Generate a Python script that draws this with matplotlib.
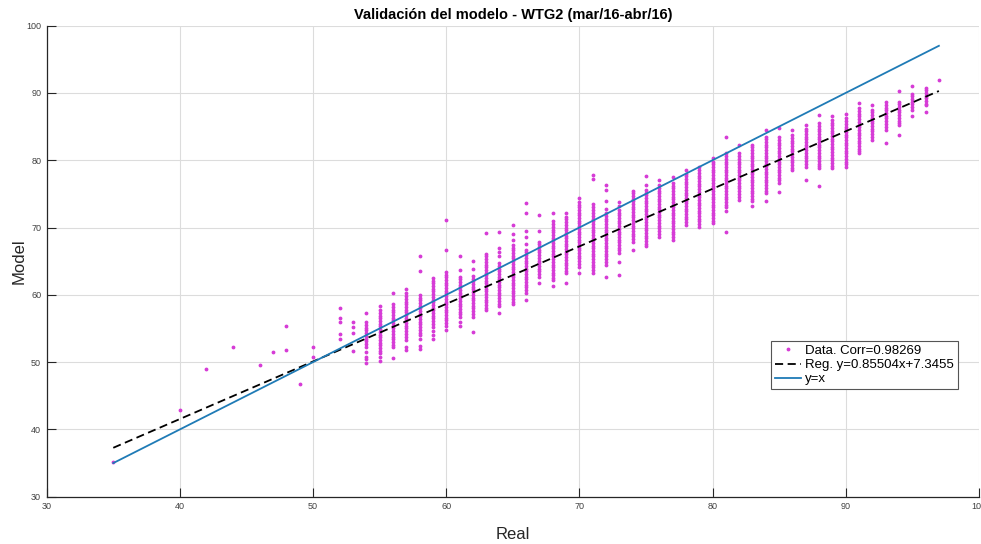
import numpy as np
import matplotlib
matplotlib.use("Agg")
import matplotlib.pyplot as plt

plt.rcParams['font.family'] = ['Liberation Sans', 'DejaVu Sans']

# Real value of each column of points
real_x = [35, 40, 42, 44, 46, 47, 48, 49, 50,
          52, 53, 54, 55, 56, 57, 58, 59, 60, 61, 62, 63, 64, 65, 66, 67, 68,
          69, 70, 71, 72, 73, 74, 75, 76, 77, 78, 79, 80, 81, 82, 83, 84, 85,
          86, 87, 88, 89, 90, 91, 92, 93, 94, 95, 96, 97]

# Model values read for each column (same order as real_x)
model_y = [
    [35.2], [42.9], [49.0], [52.3], [49.5], [51.5], [55.3, 51.8], [46.7], [52.3, 50.8],
    [58.0, 56.6, 56.0, 54.2, 53.4],
    [55.9, 55.2, 54.4, 51.6],
    [57.3, 55.9, 55.5, 55.1, 54.7, 54.3, 53.9, 53.5, 53.1, 52.7, 52.3, 51.5, 50.8, 50.4, 49.9],
    [58.3, 57.7, 57.3, 56.9, 56.5, 56.1, 55.7, 55.3, 54.9, 54.5, 54.1, 53.7, 53.3, 52.9, 52.5,
     52.1, 51.7, 51.3, 50.8, 50.2],
    [60.3, 58.6, 58.2, 57.8, 57.4, 57.0, 56.6, 56.2, 55.8, 55.4, 55.0, 54.6, 54.2, 53.8, 53.4,
     53.0, 52.6, 52.3, 50.6],
    [60.8, 60.2, 59.8, 59.4, 59.0, 58.6, 58.2, 57.8, 57.4, 57.0, 56.6, 56.2, 55.8, 55.4, 55.0,
     54.6, 54.2, 53.8, 53.3, 52.3, 51.8],
    [65.7, 63.5, 60.0, 59.6, 59.2, 58.8, 58.4, 58.0, 57.6, 57.2, 56.8, 56.4, 56.0, 55.6, 55.2,
     54.8, 54.4, 54.0, 53.4, 52.4, 51.9],
    [62.5, 62.1, 61.7, 61.3, 60.9, 60.5, 60.1, 59.7, 59.3, 58.9, 58.5, 58.1, 57.7, 57.3, 56.9,
     56.5, 56.1, 55.7, 55.2, 54.6, 54.0, 53.5],
    [71.1, 66.6, 63.4, 63.0, 62.6, 62.2, 61.8, 61.4, 61.0, 60.6, 60.2, 59.8, 59.4, 59.0, 58.6,
     58.2, 57.8, 57.4, 57.0, 56.6, 56.2, 55.8, 55.4, 54.8],
    [65.8, 63.7, 62.7, 62.3, 61.9, 61.5, 61.1, 60.7, 60.3, 59.9, 59.5, 59.1, 58.7, 58.3, 57.9,
     57.5, 57.1, 56.7, 56.0, 55.3],
    [65.1, 63.8, 62.8, 62.4, 62.0, 61.6, 61.2, 60.8, 60.4, 60.0, 59.6, 59.2, 58.8, 58.4, 58.0,
     57.6, 57.2, 56.7, 54.5],
    [69.2, 66.1, 65.7, 65.3, 64.9, 64.5, 64.1, 63.7, 63.3, 62.9, 62.5, 62.1, 61.7, 61.3, 60.9,
     60.5, 60.1, 59.7, 59.3, 58.9, 58.5, 58.1, 57.7],
    [69.4, 66.9, 66.3, 65.7, 64.7, 64.3, 63.9, 63.5, 63.1, 62.7, 62.3, 61.9, 61.5, 61.1, 60.7,
     60.3, 59.9, 59.5, 59.1, 58.7, 58.3, 57.3],
    [70.4, 69.1, 68.1, 67.4, 67.0, 66.6, 66.2, 65.8, 65.4, 65.0, 64.6, 64.2, 63.8, 63.4, 63.0,
     62.6, 62.2, 61.8, 61.4, 61.0, 60.6, 60.2, 59.8, 59.4, 59.0, 58.7],
    [73.7, 72.1, 69.5, 68.6, 67.6, 66.7, 66.3, 65.9, 65.5, 65.1, 64.7, 64.3, 63.9, 63.5, 63.1,
     62.7, 62.3, 61.9, 61.5, 61.1, 60.7, 60.2, 59.3],
    [71.9, 69.5, 67.9, 67.5, 67.1, 66.7, 66.3, 65.9, 65.5, 65.1, 64.7, 64.3, 63.9, 63.5, 63.1,
     62.7, 61.7],
    [72.2, 70.9, 70.5, 70.1, 69.7, 69.3, 68.9, 68.5, 68.1, 67.7, 67.3, 66.9, 66.5, 66.1, 65.7,
     65.3, 64.9, 64.5, 64.1, 63.7, 63.3, 62.9, 62.5, 62.2, 61.3],
    [72.2, 71.6, 71.2, 70.8, 70.4, 70.0, 69.6, 69.2, 68.8, 68.4, 68.0, 67.6, 67.2, 66.8, 66.4,
     66.0, 65.6, 65.2, 64.8, 64.4, 64.0, 63.6, 63.2, 61.7],
    [74.4, 73.8, 73.4, 73.0, 72.6, 72.2, 71.8, 71.4, 71.0, 70.6, 70.2, 69.8, 69.4, 69.0, 68.6,
     68.2, 67.8, 67.4, 67.0, 66.6, 66.2, 65.8, 65.4, 65.0, 64.6, 64.2, 63.3],
    [77.8, 77.2, 73.5, 73.0, 72.6, 72.1, 71.7, 71.3, 70.9, 70.5, 70.1, 69.7, 69.3, 68.9, 68.5,
     68.1, 67.7, 67.3, 66.9, 66.5, 66.1, 65.7, 65.3, 64.9, 64.5, 64.2, 63.7, 63.2],
    [76.3, 75.6, 73.9, 72.7, 72.1, 71.7, 71.3, 70.9, 70.5, 70.1, 69.7, 69.3, 68.9, 68.5, 68.1,
     67.7, 67.3, 66.9, 66.5, 66.1, 65.7, 65.3, 64.9, 64.4, 62.7],
    [73.8, 73.2, 72.6, 72.2, 71.8, 71.4, 71.0, 70.6, 70.2, 69.8, 69.4, 69.0, 68.6, 68.2, 67.8,
     67.4, 67.0, 66.6, 66.2, 64.9, 63.0],
    [75.4, 75.1, 74.7, 74.3, 73.9, 73.5, 73.1, 72.7, 72.3, 71.9, 71.5, 71.1, 70.7, 70.3, 69.9,
     69.5, 69.1, 68.7, 68.3, 67.9, 66.6],
    [77.6, 76.3, 75.6, 75.2, 74.8, 74.4, 74.0, 73.6, 73.2, 72.8, 72.4, 72.0, 71.6, 71.2, 70.8,
     70.4, 70.0, 69.6, 69.2, 68.8, 68.4, 68.0, 67.6, 67.2],
    [77.1, 76.3, 75.9, 75.5, 75.1, 74.7, 74.3, 73.9, 73.5, 73.1, 72.7, 72.3, 71.9, 71.5, 71.1,
     70.7, 70.3, 69.9, 69.5, 69.1, 68.6],
    [77.5, 76.6, 76.2, 75.8, 75.4, 75.0, 74.6, 74.2, 73.8, 73.4, 73.0, 72.6, 72.2, 71.8, 71.4,
     71.0, 70.6, 70.2, 69.8, 69.4, 69.0, 68.6, 68.1],
    [78.6, 78.0, 77.6, 77.2, 76.8, 76.4, 76.0, 75.6, 75.2, 74.8, 74.4, 74.0, 73.6, 73.2, 72.8,
     72.4, 72.0, 71.6, 71.2, 70.8, 70.4],
    [79.0, 78.5, 78.1, 77.7, 77.3, 76.9, 76.5, 76.1, 75.7, 75.3, 74.9, 74.5, 74.1, 73.7, 73.3,
     72.9, 72.5, 72.1, 71.7, 71.3, 70.9, 70.5, 70.1],
    [80.4, 79.8, 79.4, 79.0, 78.6, 78.2, 77.8, 77.4, 77.0, 76.6, 76.2, 75.8, 75.4, 75.0, 74.6,
     74.2, 73.8, 73.4, 73.0, 72.6, 72.2, 71.8, 71.4, 71.0, 70.6],
    [83.4, 81.0, 80.6, 80.2, 79.8, 79.4, 79.0, 78.6, 78.2, 77.8, 77.4, 77.0, 76.6, 76.2, 75.8,
     75.4, 75.0, 74.6, 74.2, 73.8, 73.4, 73.0, 72.4, 69.4],
    [82.3, 81.0, 80.6, 80.2, 79.8, 79.4, 79.0, 78.6, 78.2, 77.8, 77.4, 77.0, 76.6, 76.2, 75.8,
     75.4, 75.0, 74.6, 74.1],
    [82.3, 81.9, 81.5, 81.1, 80.7, 80.3, 79.9, 79.5, 79.1, 78.7, 78.3, 77.9, 77.5, 77.1, 76.7,
     76.3, 75.9, 75.5, 75.1, 74.7, 74.3, 73.9, 73.2],
    [84.5, 83.5, 83.1, 82.7, 82.3, 81.9, 81.5, 81.1, 80.7, 80.3, 79.9, 79.5, 79.1, 78.7, 78.3,
     77.9, 77.5, 77.1, 76.7, 76.3, 75.9, 75.5, 75.1, 73.9],
    [84.8, 83.4, 83.0, 82.6, 82.2, 81.8, 81.4, 81.0, 80.6, 80.2, 79.8, 79.4, 79.0, 78.6, 78.2,
     77.8, 77.4, 77.0, 76.6, 75.3],
    [84.5, 83.7, 83.3, 82.9, 82.5, 82.1, 81.7, 81.3, 80.9, 80.5, 80.1, 79.7, 79.3, 78.9, 78.5],
    [85.2, 84.7, 84.3, 83.9, 83.5, 83.1, 82.7, 82.3, 81.9, 81.5, 81.1, 80.7, 80.3, 79.9, 79.5,
     79.0, 77.1],
    [86.7, 85.5, 85.1, 84.7, 84.3, 83.9, 83.5, 83.1, 82.7, 82.3, 81.9, 81.5, 81.1, 80.7, 80.3,
     79.9, 79.5, 79.1, 78.8, 76.2],
    [86.5, 86.0, 85.6, 85.2, 84.8, 84.4, 84.0, 83.6, 83.2, 82.8, 82.4, 82.0, 81.6, 81.2, 80.8,
     80.4, 80.0, 79.6, 79.2, 78.8],
    [86.9, 86.2, 85.8, 85.4, 85.0, 84.6, 84.2, 83.8, 83.4, 83.0, 82.6, 82.2, 81.8, 81.4, 81.0,
     80.6, 80.2, 79.8, 79.4, 79.0],
    [88.5, 87.7, 87.3, 86.9, 86.5, 86.1, 85.7, 85.3, 84.9, 84.5, 84.1, 83.7, 83.3, 82.9, 82.5,
     82.1, 81.7, 81.3, 81.0],
    [88.2, 87.5, 87.1, 86.7, 86.3, 85.9, 85.5, 85.1, 84.7, 84.3, 83.9, 83.5, 83.0],
    [88.7, 88.2, 87.8, 87.4, 87.0, 86.6, 86.2, 85.8, 85.4, 85.0, 84.5, 82.6],
    [90.3, 88.7, 88.3, 87.9, 87.5, 87.1, 86.7, 86.3, 85.9, 85.5, 85.2, 83.7],
    [91.0, 89.9, 89.5, 89.1, 88.7, 88.3, 87.9, 87.5, 86.6],
    [90.7, 90.4, 90.0, 89.6, 89.2, 88.8, 88.4, 88.2, 87.1],
    [91.9],
]

corr = 0.98269
slope = 0.85504
intercept = 7.3455

x_pts = np.concatenate([[x] * len(ys) for x, ys in zip(real_x, model_y)])
y_pts = np.concatenate(model_y)

fig = plt.figure(figsize=(9.81, 5.44), dpi=100)
ax = fig.add_axes([0.0476, 0.0869, 0.9502, 0.866])

ax.plot(x_pts, y_pts, '.', color='#d63cd6', markersize=3.5,
        label=f'Data. Corr={corr}')
x_line = np.array([min(real_x), max(real_x)])
reg, = ax.plot(x_line, slope * x_line + intercept, '--', color='black', linewidth=1.3,
               label=f'Reg. y={slope}x+{intercept}')
reg.set_dashes((4.5, 2.5))
ax.plot(x_line, x_line, '-', color='#1f7bb6', linewidth=1.3, label='y=x')

ax.set_xlim(30, 100)
ax.set_ylim(30, 100)
ax.set_xticks(range(30, 101, 10))
ax.set_yticks(range(30, 101, 10))
ax.grid(True, color='#dcdcdc', linewidth=0.8)
ax.set_axisbelow(True)

for side in ['top', 'right']:
    ax.spines[side].set_visible(False)
for side in ['left', 'bottom']:
    ax.spines[side].set_color('#262626')
    ax.spines[side].set_linewidth(0.9)
ax.tick_params(direction='in', length=6.5, width=0.8, colors='#262626',
               labelsize=6.5, labelcolor='#404040', pad=4)

ax.set_title('Validación del modelo - WTG2 (mar/16-abr/16)', fontsize=10.5,
             fontweight='bold', pad=5)
ax.set_xlabel('Real', fontsize=12, labelpad=11, color='#262626')
ax.set_ylabel('Model', fontsize=12, labelpad=0, color='#262626')

leg = ax.legend(loc='upper left', bbox_to_anchor=(0.777, 0.331), fontsize=9.5,
                fancybox=False, edgecolor='#555555', framealpha=1,
                handlelength=2.0, handletextpad=0.3, borderpad=0.3,
                labelspacing=0.15, borderaxespad=0, markerscale=1.0)
leg.get_frame().set_linewidth(0.8)

fig.savefig('out.png', dpi=100)
